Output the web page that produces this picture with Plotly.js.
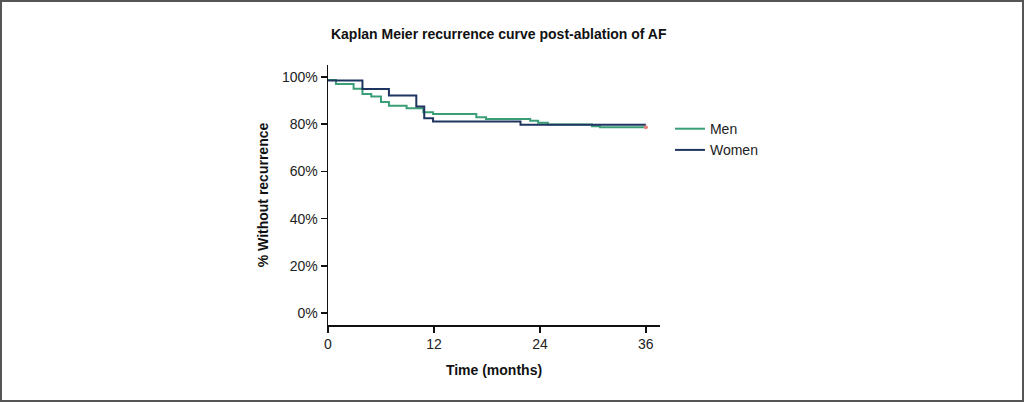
<!DOCTYPE html>
<html>
<head>
<meta charset="utf-8">
<script src="https://cdn.plot.ly/plotly-3.0.1.min.js"></script>
<style>
html,body{margin:0;padding:0;background:#fff;}
#chart{width:1024px;height:402px;box-sizing:border-box;border:2px solid #555;}
</style>
</head>
<body>
<div id="chart"></div>
<script>
// Time in months and survival (% without recurrence), step points
const menTime = [0, 0.9, 2.9, 3.9, 4.9, 6.0, 6.9, 8.9, 10.8, 11.9, 16.8, 17.9, 22.9, 23.8, 24.9, 29.9, 30.8, 36];
const menSurv = [98.7, 97.0, 95.0, 92.7, 91.7, 89.3, 87.8, 86.7, 85.0, 84.3, 82.9, 82.2, 81.4, 80.6, 79.8, 79.1, 78.7, 78.7];
const womenTime = [0, 3.9, 6.9, 10.0, 10.9, 11.9, 21.8, 36];
const womenSurv = [98.4, 94.8, 92.1, 87.4, 82.5, 81.1, 79.7, 79.7];
const seriesNames = ['Men', 'Women'];
const xTickVals = [0, 12, 24, 36];
const yTickVals = [0, 20, 40, 60, 80, 100];
const yTickText = ['0%', '20%', '40%', '60%', '80%', '100%'];

const font = 'Liberation Sans, Arial, sans-serif';

const traces = [
  {x: menTime, y: menSurv, name: seriesNames[0], mode: 'lines', line: {shape: 'hv', color: '#3a9e76', width: 2}},
  {x: womenTime, y: womenSurv, name: seriesNames[1], mode: 'lines', line: {shape: 'hv', color: '#1e3560', width: 2}},
  {x: [menTime[menTime.length-1]], y: [menSurv[menSurv.length-1]], mode: 'markers', showlegend: false, hoverinfo: 'skip',
   marker: {symbol: 'circle', size: 4, color: '#e8807a'}}
];

const layout = {
  width: 1020, height: 398,
  margin: {l: 326, r: 362, t: 63, b: 75},
  paper_bgcolor: '#fff', plot_bgcolor: '#fff',
  font: {family: font, color: '#222', size: 14},
  title: {text: '<b>Kaplan Meier recurrence curve post-ablation of AF</b>', x: 0.487, xanchor: 'center', y: 0.92, yanchor: 'middle',
          font: {family: font, size: 14, color: '#111'}},
  xaxis: {range: [0, 37.6], tickvals: xTickVals, ticks: 'outside', ticklen: 6, tickwidth: 1.5, tickcolor: '#111',
          showline: true, linecolor: '#111', linewidth: 1.5, showgrid: false, zeroline: false,
          tickfont: {family: font, size: 14, color: '#222'},
          title: {text: '<b>Time (months)</b>', font: {family: font, size: 14, color: '#111'}, standoff: 14}},
  yaxis: {range: [-5, 105], tickvals: yTickVals, ticktext: yTickText, ticks: 'outside', ticklen: 6, tickwidth: 1.5, tickcolor: '#111',
          showline: true, linecolor: '#111', linewidth: 1.5, showgrid: false, zeroline: false,
          tickfont: {family: font, size: 14, color: '#222'},
          title: {text: '<b>% Without recurrence</b>', font: {family: font, size: 14, color: '#111'}, standoff: 10}},
  legend: {x: 1.03, xanchor: 'left', y: 0.815, yanchor: 'top', font: {family: font, size: 14, color: '#222'},
           itemwidth: 30, tracegroupgap: 2, bgcolor: 'rgba(0,0,0,0)'},
  showlegend: true
};

Plotly.newPlot('chart', traces, layout, {displayModeBar: false, staticPlot: true});
</script>
</body>
</html>
